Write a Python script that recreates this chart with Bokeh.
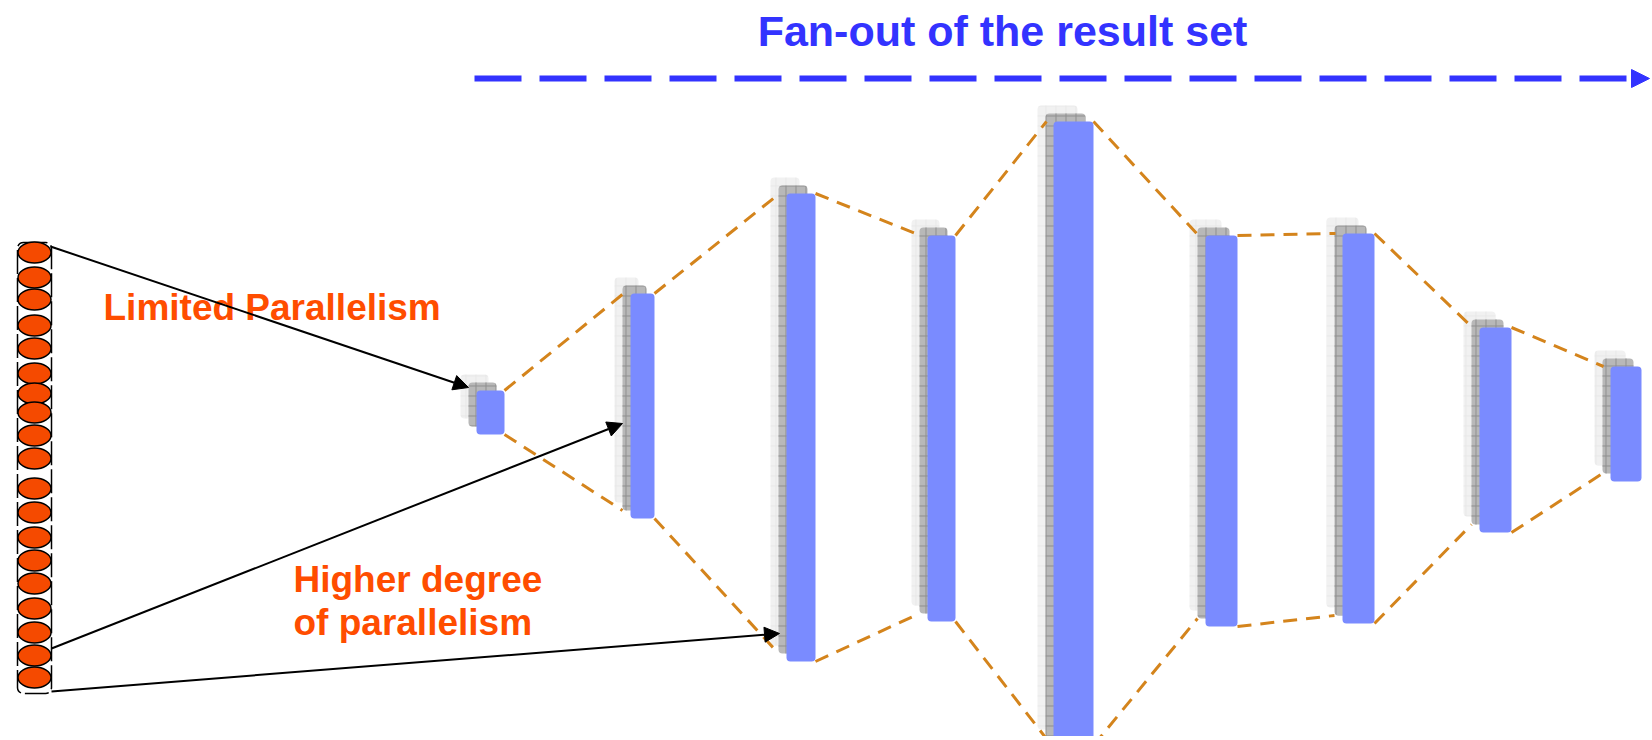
from bokeh.plotting import figure
from bokeh.models import Range1d, ColumnDataSource, Arrow, NormalHead
from bokeh.core.properties import value
from bokeh.embed import file_html
from bokeh.resources import INLINE

# ---- data (page-pixel coordinates) ----
bar_left = [476, 630, 786, 927, 1053, 1205, 1342, 1479, 1610]
bar_right = [504, 654, 815, 955, 1093, 1237, 1374, 1511, 1641]
bar_top = [390, 293, 193, 235, 121, 235, 233, 327, 366]
bar_bottom = [434, 518, 661, 621, 745, 626, 623, 532, 481]

node_y = [252, 277, 299, 325, 348, 373, 393, 412, 435, 458, 488, 512,
          537, 560, 583, 608, 632, 655, 677]
node_x = [34] * len(node_y)

arrow_x0 = [50, 51, 51]
arrow_y0 = [246, 648, 691]
arrow_x1 = [468, 622, 779]
arrow_y1 = [387, 423, 633]

title_text = ["Fan-out of the result set"]
label1 = ["Limited Parallelism"]
label2 = ["Higher degree", "of parallelism"]

W, H = 1650, 736
p = figure(width=W, height=H, x_range=Range1d(0, W), y_range=Range1d(H, 0),
           output_backend="svg", toolbar_location=None, min_border=0)
p.axis.visible = False
p.grid.visible = False
p.outline_line_color = None
p.background_fill_color = "white"

# shadows
p.quad(left=[l - 16 for l in bar_left], right=[r - 16 for r in bar_right],
       top=[t - 16 for t in bar_top], bottom=[b - 16 for b in bar_bottom],
       fill_color="#f1f1f1", line_color=None, hatch_pattern="+", hatch_scale=10,
       hatch_weight=0.6, hatch_color="#e2e2e2", border_radius=4)
p.quad(left=[l - 8 for l in bar_left], right=[r - 8 for r in bar_right],
       top=[t - 8 for t in bar_top], bottom=[b - 8 for b in bar_bottom],
       fill_color="#b8b8b8", line_color=None, hatch_pattern="+", hatch_scale=10,
       hatch_weight=1, hatch_color="#8f8f8f", border_radius=4)

# dashed connectors
n = len(bar_left)
p.segment(x0=bar_right[:-1], y0=bar_top[:-1],
          x1=[bar_left[i + 1] - 7 for i in range(n - 1)],
          y1=[bar_top[i + 1] for i in range(n - 1)],
          line_color="#d4841c", line_width=3, line_dash="14 9")
p.segment(x0=bar_right[:-1], y0=bar_bottom[:-1],
          x1=[bar_left[i + 1] - 8 for i in range(n - 1)],
          y1=[bar_bottom[i + 1] - 8 for i in range(n - 1)],
          line_color="#d4841c", line_width=3, line_dash="14 9")

# blue bars
p.quad(left=bar_left, right=bar_right, top=bar_top, bottom=bar_bottom,
       fill_color="#7a8bff", line_color=None, border_radius=4)

# column of nodes
p.quad(left=[17], right=[51], top=[242], bottom=[693], fill_color=None,
       line_color="black", line_width=1.5, line_dash="24 4", border_radius=6)
p.ellipse(x=node_x, y=node_y, width=33, height=21, fill_color="#f54a00",
          line_color="black", line_width=1.5)

# black arrows
src = ColumnDataSource(dict(x0=arrow_x0, y0=arrow_y0, x1=arrow_x1, y1=arrow_y1))
p.add_layout(Arrow(end=NormalHead(size=15, fill_color="black", line_color="black"),
                   x_start="x0", y_start="y0", x_end="x1", y_end="y1", source=src,
                   line_color="black", line_width=2))

# top blue dashed arrow
p.add_layout(Arrow(end=NormalHead(size=18, fill_color="#3333ff", line_color="#3333ff"),
                   x_start=474, y_start=78, x_end=1649, y_end=78,
                   line_color="#3333ff", line_width=6, line_dash="47 18"))

# texts
p.text(x=[1002], y=[30], text=title_text, text_font=value("Liberation Sans"),
       text_font_style="bold", text_font_size=value("43px"), text_color="#3333ff",
       text_align="center", text_baseline="alphabetic")
p.text(x=[103], y=[307], text=label1, text_font=value("Liberation Sans"),
       text_font_style="bold", text_font_size=value("37px"), text_color="#ff4d00",
       text_align="left", text_baseline="alphabetic")
p.text(x=[293, 293], y=[579, 622], text=label2, text_font=value("Liberation Sans"),
       text_font_style="bold", text_font_size=value("37px"), text_color="#ff4d00",
       text_align="left", text_baseline="alphabetic")

open("out.html", "w").write(file_html(p, INLINE))
